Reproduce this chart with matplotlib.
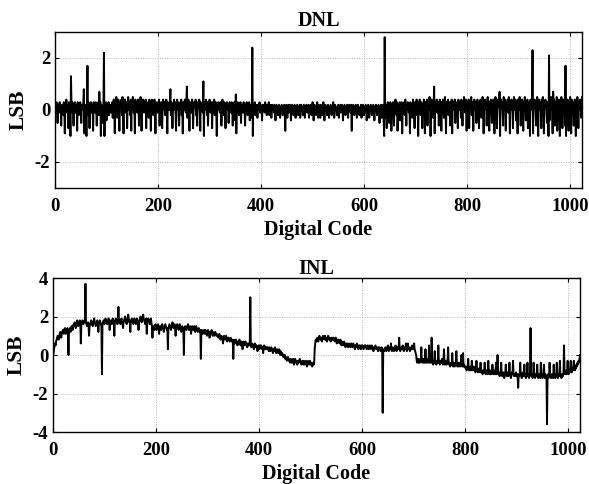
import numpy as np
import matplotlib
matplotlib.use("Agg")
import matplotlib.pyplot as plt

plt.rcParams['font.family'] = ['Liberation Serif', 'DejaVu Serif']
plt.rcParams['font.weight'] = 'bold'
plt.rcParams['axes.unicode_minus'] = False

# DNL values in tenths of an LSB, rows of 32 codes
DNL_TENTHS = [
    [1,2,-1,3,0,-5,2,1, 0,3,-1,2,-6,1,0,2, -2,3,1,-9,2,0,4,1, -1,2,-7,3,1,0,-10,13],
    [2,-1,3,0,-6,2,1,3, -1,0,2,-8,3,1,-2,2, 0,3,-1,-5,2,1,0,3, 8,-9,2,1,0,-10,3,17],
    [-2,3,1,-7,2,0,3,-1, 2,1,-8,3,0,2,-1,3, 1,-6,2,0,3,-2,7,1, 3,-10,2,0,1,-5,2,22],
    [-10,2,1,3,-4,2,0,1, 3,-2,1,2,0,-1,2,3, -3,1,4,2,-9,3,0,5, 2,-3,1,4,0,-8,2,3],
    [1,4,-2,5,0,-9,3,2, 4,-1,2,3,-7,1,5,2, 0,3,-2,4,-8,2,1,5, 3,-1,2,-9,4,0,2,3],
    [-1,4,2,-6,3,0,5,1, -8,2,3,4,0,-1,3,2, 4,-7,1,3,2,0,-3,4, 3,1,-8,2,4,0,3,-2],
    [2,4,0,-9,3,1,2,-1, 3,0,4,-6,2,1,3,0, -7,2,4,1,0,3,-2,2, 4,0,-9,3,1,2,0,3],
    [8,-2,3,1,-7,2,0,4, 1,3,-1,-8,2,4,0,3, 1,-6,2,3,0,4,-2,1, -9,3,2,0,4,1,-1,3],
    [9,-3,2,4,0,-8,3,1, 2,-1,4,3,-7,0,2,3, 1,4,-2,0,-6,3,2,1, 4,0,-8,3,2,1,0,-1],
    [11,-10,3,2,0,4,1,-2, 3,-6,2,1,4,0,-1,3, 2,-7,3,0,1,4,-2,2, 3,0,-10,2,1,3,0,2],
    [-1,3,2,-6,0,4,1,2, -2,3,0,-7,2,1,3,0, 2,-5,1,3,0,2,-1,3, 1,-6,2,0,3,1,-4,6],
    [-9,2,1,3,0,-2,2,1, 3,-5,0,2,1,-1,3,2, 0,-6,2,1,3,0,-2,2, 1,3,-4,0,2,1,-3,24],
    [-10,2,1,0,3,-2,1,2, 0,-3,2,1,0,3,-1,2, 1,0,-4,2,1,0,2,-1, 3,0,1,-2,2,0,1,3],
    [-2,1,0,2,-3,1,2,0, 1,-1,2,0,-4,1,2,1, 0,-2,1,2,0,-3,1,0, 2,1,-2,0,1,2,-1,-8],
    [1,2,0,-3,1,2,-1,0, 2,1,-4,0,2,1,0,-2, 1,2,0,-3,1,0,2,1, -2,1,0,2,-3,1,2,0],
    [1,-2,0,2,1,-3,0,1, 2,0,-1,1,2,-3,0,1, 2,1,-2,0,3,1,-4,0, 2,1,0,-2,1,3,0,-3],
    [2,1,0,-3,2,1,0,-2, 1,3,0,-4,1,2,0,1, -2,1,2,0,-3,1,0,2, 1,-2,0,1,3,0,-3,1],
    [2,0,1,-2,0,1,2,-3, 0,1,2,-1,0,2,1,-4, 1,0,2,1,-2,0,1,2, 0,-3,1,2,0,1,-1,2],
    [-8,1,0,2,1,-2,0,1, 2,0,-3,1,2,0,1,-2, 0,1,2,-3,0,1,2,0, -2,1,0,2,1,-4,0,1],
    [2,0,-3,1,0,2,1,-2, 0,1,2,0,-4,1,0,2, 1,-2,0,1,2,0,-5,1, 0,2,-3,1,0,2,-4,-10],
    [28,-3,2,0,-7,1,3,0, 2,-5,1,3,0,-8,2,1, 3,0,-6,2,1,4,0,-2, 3,-8,1,2,0,3,-4,2],
    [0,3,-9,2,1,0,3,-2, 4,1,-6,2,0,3,1,-1, 2,-9,3,1,0,2,-3,4, 1,0,-7,3,2,0,4,-2],
    [3,-10,1,2,4,0,-2,3, 1,-7,2,0,4,1,-9,3, 2,0,4,-6,1,3,0,5, 2,-10,1,4,0,3,-3,2],
    [9,-9,2,3,0,4,-1,2, 3,-6,1,4,0,2,-8,3, 1,4,0,-3,2,5,1,-9, 3,0,2,4,-2,1,3,-6],
    [2,0,4,-9,1,3,2,0, 4,-5,2,1,3,0,-7,4, 1,2,0,3,-3,4,1,-6, 2,0,5,3,-1,2,4,-8],
    [3,1,0,4,-7,2,3,1, 5,-2,0,3,-8,2,4,1, 0,3,-5,2,4,1,0,-7, 3,2,4,0,-3,1,5,2],
    [-9,3,1,4,0,2,-6,3, 5,1,0,-8,3,2,4,1, -5,3,0,4,2,-9,1,5, 3,0,-7,4,2,1,3,7],
    [-10,2,4,1,3,0,-6,5, 2,1,4,-8,0,3,2,4, -1,5,2,-9,3,0,4,1, 2,-7,3,5,0,2,4,-4],
    [3,1,-9,4,2,0,5,1, -6,3,2,4,0,-8,3,1, 5,2,-4,3,0,4,-7,2, 1,3,-10,4,2,0,3,23],
    [-9,3,1,4,2,0,-6,3, 5,1,-10,2,4,0,3,1, -7,4,2,5,0,-9,3,1, 4,2,0,-5,3,1,-10,21],
    [-4,3,2,5,0,1,-9,7, 2,4,-6,1,3,0,5,-8, 2,1,4,0,-10,3,2,5, 1,-7,3,4,0,2,-6,17],
    [-10,3,2,4,0,-8,1,3, 5,2,-9,4,0,3,1,-6, 2,4,0,-10,3,1,5,2, -7,3,0,4,1,2,-3,5],
]

# INL values in tenths of an LSB, rows of 32 codes
INL_TENTHS = [
    [0,1,3,5,6,5,7,8,9,10, 9,8,10,11,12,10,9,11,12,13, 12,11,13,14,12,11,12,13,14,12, 0,13],
    [13,14,12,13,15,14,13,15,16,15, 17,16,14,15,17,18,16,15,16,17, 18,17,6,16,17,18,17,16,17,18, 17,37],
    [17,16,15,16,17,15,10,15,16,17, 18,17,16,15,17,18,19,17,16,15, 16,17,18,16,12,16,17,18,17,16, 15,-10],
    [16,17,18,17,16,18,19,18,17,16, 17,18,19,17,13,17,18,17,16,18, 19,18,17,10,17,18,19,18,17,16, 18,25],
    [17,18,17,16,18,19,17,16,14,17, 18,19,20,18,17,16,18,19,21,19, 17,18,12,17,18,19,18,17,16,18, 19,18],
    [17,16,18,19,18,17,13,17,18,19, 20,18,17,18,19,21,19,18,17,16, 18,19,11,17,18,19,18,17,16,18, 19,17],
    [15,9,14,15,14,13,15,16,14,13, 14,15,16,14,11,14,15,14,13,15, 16,15,14,12,14,15,16,15,14,13, 14,3],
    [14,15,16,15,14,13,15,16,17,15, 14,15,16,14,10,14,15,16,15,14, 13,15,16,15,14,12,14,15,14,13, 0,14],
    [14,15,14,13,14,15,16,14,13,14, 15,14,11,14,15,14,13,14,15,13, 12,14,15,14,13,12,13,14,13,12, 13,-2],
    [12,13,12,11,12,13,12,11,13,12, 11,10,12,13,12,11,9,12,11,12, 13,11,10,12,11,10,11,12,11,10, 11,10],
    [10,9,10,11,9,8,9,10,9,8, 6,9,10,9,8,9,10,8,7,9, 8,9,8,7,8,9,8,7,8,7, -2,8],
    [7,6,7,8,7,6,5,7,6,7, 8,6,5,6,7,6,3,6,7,6, 5,6,7,6,5,4,6,5,6,5, 6,30],
    [5,4,5,6,5,4,3,5,6,5, 4,5,4,2,4,5,4,3,5,4, 5,4,3,4,1,4,5,4,3,4, 3,4],
    [3,4,3,2,4,3,2,3,4,3, 2,1,3,2,3,4,2,1,2,3, 2,1,2,3,1,0,2,1,0,1, 0,-1],
    [0,-1,0,-2,-1,-2,-3,-2,-1,-2, -3,-2,-4,-3,-2,-3,-4,-3,-2,-4, -5,-3,-2,-3,-4,-3,-5,-4,-3,-4, -3,-2],
    [-3,-4,-5,-4,-3,-4,-5,-3,-4,-5, -4,-3,-5,-6,-4,-3,-4,-5,-4,-3, -5,-4,-5,-6,-5,-4,-5,-4,3,6, 8,7],
    [8,9,8,7,9,10,9,8,9,8, 7,9,10,9,8,9,10,8,9,8, 7,9,10,9,8,9,8,7,9,8, 9,8],
    [8,9,8,7,8,9,7,6,8,7, 8,7,6,7,8,6,5,7,6,5, 6,7,6,5,4,6,5,6,5,4, 5,6],
    [5,4,5,6,5,4,5,6,5,4, 3,5,4,5,6,5,4,3,5,4, 5,4,3,5,4,5,4,3,4,5, 4,5],
    [4,3,4,5,4,3,4,5,4,3, 4,5,4,3,2,4,3,4,5,4, 3,4,3,2,4,3,4,3,2,3, 4,3],
    [-30,2,3,2,3,4,3,2,3,4, 5,3,2,3,4,3,6,3,2,3, 4,3,2,3,4,5,3,2,3,4, 3,4],
    [9,3,2,3,4,3,4,5,3,2, 3,4,3,6,3,2,3,6,3,4, 3,2,3,4,3,5,3,4,3,6, 3,2],
    [1,0,-3,-4,-3,-2,-4,-3,-4,-2, -3,4,-3,-4,-3,-2,-4,-3,-4,3, -3,-4,-3,-2,-4,-3,5,-4,-3,-2, -4,9],
    [-3,-4,-5,-3,-4,2,-4,-3,-5,-4, -3,-4,5,-4,-3,-5,-4,-3,-4,-2, -4,-5,-3,3,-4,-5,-4,-3,-5,-4, -3,4],
    [-4,-5,-4,-6,-5,-4,-5,1,-5,-6, -4,-5,-6,-5,-4,2,-5,-6,-5,-4, -6,-5,-4,-6,-5,0,-5,-6,1,-6, -5,-6],
    [-6,-7,-6,-8,-7,-6,-2,-7,-8,-7, -6,-8,-7,-3,-7,-8,-7,-6,-8,-7, -9,-8,-3,-8,-7,-9,-8,-7,-8,-9, -4,-8],
    [-9,-8,-10,-9,-8,-9,-4,-9,-10,-9, -8,-9,-10,-3,-9,-8,-10,-9,-8,-10, -9,-5,-9,-10,-8,-9,-10,-9,-4,-10, -9,0],
    [-9,-10,-9,-11,-10,-9,-4,-10,-11,-10, -9,-10,-12,-10,-9,-5,-10,-11,-10,-9, -11,-10,-4,-10,-11,-12,-10,-9,-10,-3, -10,-11],
    [-10,-11,-10,-9,-11,-10,-12,-17,-10,-11, -10,-4,-10,-11,-12,-10,-9,-11,-10,-5, -11,-10,-12,-11,-10,-4,-11,-10,-12,-11, -10,14],
    [-10,-11,-10,-12,-11,-4,-10,-11,-12,-10, -11,-10,-5,-11,-12,-10,-11,-10,-12,-4, -11,-10,-12,-11,-10,-5,-11,-12,-10,-11, -12,-36],
    [-11,-10,-12,-11,-4,-10,-11,-12,-10,-11, -10,-12,-5,-11,-10,-12,-11,-10,-4,-11, -12,-10,-11,-10,-3,-11,-10,-12,-11,-10, -11,-9],
    [5,-9,-10,-9,-8,-10,-9,-3,-9,-10, -8,-9,-7,-3,-8,-9,-7,-8,-6,-3, -7,-8,-6,-7,-5,-6,-4,-5,-3,-4, -2,0],
]

TITLES = ["DNL", "INL"]
XLABEL = "Digital Code"
YLABEL = "LSB"
XTICKS = [0, 200, 400, 600, 800, 1000]
DNL_YTICKS = [-2, 0, 2]
INL_YTICKS = [-4, -2, 0, 2, 4]

dnl = np.concatenate([np.array(r, dtype=float) for r in DNL_TENTHS]) / 10.0
inl = np.concatenate([np.array(r, dtype=float) for r in INL_TENTHS]) / 10.0
codes_d = np.arange(len(dnl))
codes_i = np.arange(len(inl))

fig = plt.figure(figsize=(5.89, 4.84), dpi=100)
ax1 = fig.add_axes([0.0934, 0.6116, 0.8947, 0.3223])
ax2 = fig.add_axes([0.0900, 0.1074, 0.8947, 0.3182])

def style(ax, yticks, ylim):
    ax.set_xlim(0, 1023)
    ax.set_ylim(*ylim)
    ax.set_xticks(XTICKS)
    ax.set_yticks(yticks)
    ax.grid(True, color='#b4b4b4', linestyle=(0, (1, 1.5)), linewidth=0.7)
    ax.tick_params(direction='in', top=True, right=True, length=3, width=0.8,
                   labelsize=13.5)
    ax.tick_params(axis='x', pad=7)
    ax.tick_params(axis='y', pad=3.5)
    for lbl in ax.get_xticklabels() + ax.get_yticklabels():
        lbl.set_fontweight('bold')
    for s in ax.spines.values():
        s.set_linewidth(1.0)
    ax.set_xlabel(XLABEL, fontsize=14.5, fontweight='bold', labelpad=4)
    ax.set_ylabel(YLABEL, fontsize=15.5, fontweight='bold', labelpad=4)

ax1.plot(codes_d, dnl, color='black', linewidth=1.4)
style(ax1, DNL_YTICKS, (-3, 3))
ax1.set_title(TITLES[0], fontsize=14.5, fontweight='bold', pad=4)

ax2.plot(codes_i, inl, color='black', linewidth=1.4)
style(ax2, INL_YTICKS, (-4, 4))
ax2.set_title(TITLES[1], fontsize=14.5, fontweight='bold', pad=3)

fig.savefig("out.png", dpi=100)
